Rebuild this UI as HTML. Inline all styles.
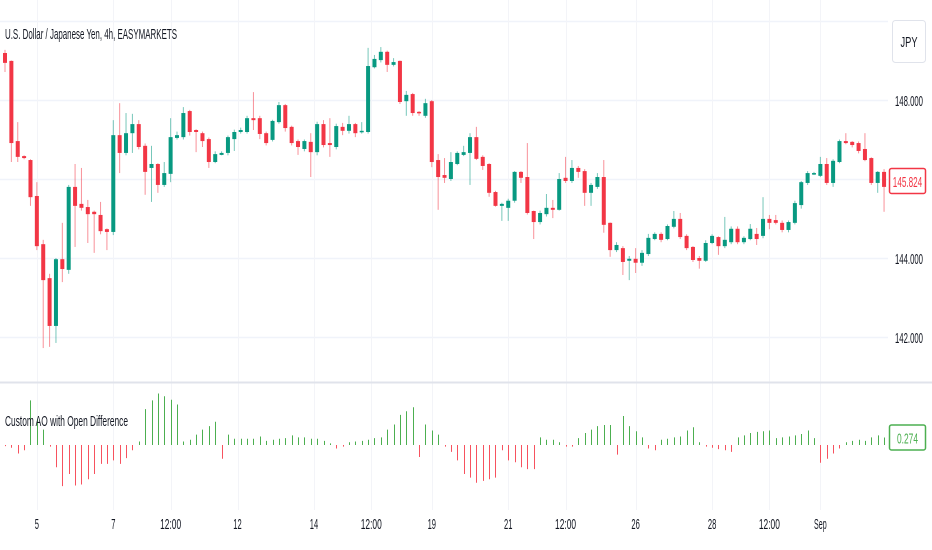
<!DOCTYPE html>
<html><head><meta charset="utf-8">
<style>
html,body{margin:0;padding:0;background:#fff;}
svg{display:block;font-family:"Liberation Sans",sans-serif;}
</style></head>
<body>
<svg id="chart" width="932" height="550" viewBox="0 0 932 550" xmlns="http://www.w3.org/2000/svg">
  <g id="grid"></g>
  <line x1="0" y1="382.5" x2="932" y2="382.5" stroke="#e0e3eb" stroke-width="2"/>
  <g id="candles"></g>
  <g id="osc"></g>
  <g id="axes"></g>
  <text x="5" y="39" font-size="15" fill="#131722" textLength="172" lengthAdjust="spacingAndGlyphs">U.S. Dollar / Japanese Yen, 4h, EASYMARKETS</text>
  <text x="5" y="426" font-size="15" fill="#131722" textLength="123" lengthAdjust="spacingAndGlyphs">Custom AO with Open Difference</text>
  <g>
    <rect x="892.5" y="20.5" width="33" height="42" rx="3" fill="#fff" stroke="#e0e3eb"/>
    <text x="909" y="47" font-size="15" fill="#131722" text-anchor="middle" textLength="17" lengthAdjust="spacingAndGlyphs">JPY</text>
  </g>
</svg>
<script>
const opens=[149.19,148.99,146.96,146.58,146.48,145.57,144.35,143.49,142.28,143.97,143.70,145.80,145.37,145.29,145.17,145.09,144.73,144.66,147.11,146.66,147.16,147.39,146.84,146.28,146.38,145.85,146.13,147.04,147.06,147.72,147.24,147.16,147.01,146.43,146.61,146.66,147.01,147.19,147.19,147.54,147.54,147.16,146.99,147.44,147.87,147.32,146.96,146.76,146.94,146.68,147.39,146.91,146.81,147.32,147.22,147.39,147.19,147.19,148.83,149.01,149.22,148.89,148.99,147.97,148.15,147.70,147.60,147.97,146.48,146.10,146.00,146.38,146.61,146.66,147.06,146.56,146.38,145.67,145.32,145.27,145.45,146.18,146.05,145.19,144.91,145.11,145.27,145.22,146.03,145.95,146.28,146.20,145.65,145.80,146.05,144.89,144.20,144.25,143.93,143.98,143.88,144.10,144.48,144.61,144.48,144.79,144.99,144.56,144.28,144.00,143.93,144.38,144.53,144.30,144.40,144.74,144.40,144.48,144.61,144.56,144.99,144.96,144.89,144.71,144.89,145.34,145.90,146.13,146.08,146.38,145.90,146.43,146.96,146.94,146.91,146.76,146.53,145.90,146.18];
const highs=[149.27,149.00,147.44,146.60,146.50,145.92,144.46,143.60,144.00,144.89,145.85,146.38,146.28,145.47,145.20,145.42,144.75,147.49,147.92,147.67,147.65,147.49,146.90,146.84,146.40,146.43,147.54,147.20,147.82,147.75,147.26,147.20,147.05,146.70,146.70,147.10,147.25,147.30,147.60,148.20,147.60,147.20,147.50,147.95,147.90,147.35,147.00,147.00,147.16,147.45,147.49,147.54,147.40,147.42,147.60,147.42,147.44,149.32,149.14,149.34,149.25,149.06,149.00,148.23,148.18,147.72,148.03,148.00,146.63,146.53,146.68,146.70,146.84,147.16,147.32,146.60,146.40,145.70,145.40,145.50,146.20,146.20,146.91,145.20,145.20,145.62,145.47,146.15,146.56,146.48,146.33,146.25,145.90,146.15,146.48,144.90,144.40,144.30,144.05,144.25,144.20,144.61,144.65,144.65,144.85,145.19,145.14,144.60,144.30,144.05,144.45,144.60,144.55,145.04,144.80,144.80,144.55,144.86,144.76,145.54,145.09,145.09,144.95,144.95,145.45,145.95,146.20,146.18,146.56,146.53,146.50,147.00,147.16,146.96,146.95,147.16,146.55,146.20,146.25];
const lows=[148.71,146.43,146.43,146.50,145.32,144.20,141.72,141.75,141.85,143.39,143.60,144.28,145.20,144.38,144.13,144.60,144.20,144.58,146.15,146.60,146.66,146.75,145.60,145.42,145.65,145.80,145.92,147.00,147.00,147.10,146.68,146.81,146.28,146.40,146.60,146.60,146.71,147.15,147.15,147.24,147.01,146.85,146.95,147.40,147.20,146.85,146.61,146.70,146.05,146.60,146.80,146.56,146.75,147.11,147.15,147.06,147.15,147.15,148.80,148.95,148.71,148.85,147.90,147.60,147.60,147.60,147.55,146.30,145.22,145.90,145.95,146.35,146.58,145.85,146.48,146.23,145.55,145.30,144.94,144.94,145.40,145.90,145.10,144.48,144.85,145.05,145.01,145.20,145.90,145.90,146.03,145.32,145.32,145.75,144.64,144.03,144.15,143.57,143.44,143.62,143.80,144.05,144.45,144.40,144.45,144.75,144.48,144.20,143.90,143.73,143.90,144.35,144.08,144.25,144.35,144.35,144.35,144.45,144.33,144.50,144.73,144.85,144.65,144.65,144.85,145.25,145.85,146.10,146.05,145.85,145.80,146.40,146.88,146.80,146.65,146.45,145.85,145.65,145.17];
const closes=[148.94,146.91,146.56,146.53,145.54,144.30,143.44,142.28,143.97,143.72,145.80,145.32,145.27,145.11,145.11,144.68,144.66,147.11,146.66,147.16,147.39,146.81,146.18,146.38,145.85,146.15,147.06,147.11,147.67,147.19,147.19,146.96,146.43,146.63,146.66,147.06,147.19,147.24,147.54,147.49,147.14,146.91,147.47,147.87,147.29,146.91,146.81,146.96,146.68,147.39,146.86,146.86,147.34,147.22,147.39,147.16,147.22,148.86,149.04,149.22,148.89,148.96,147.95,148.13,147.67,147.67,147.92,146.43,146.05,146.03,146.43,146.66,146.68,147.06,146.51,146.33,145.65,145.32,145.37,145.45,146.18,146.03,145.14,144.91,145.14,145.27,145.22,146.00,145.95,146.28,146.18,145.65,145.85,146.05,144.84,144.20,144.33,143.90,143.98,143.88,144.13,144.51,144.61,144.46,144.81,144.99,144.53,144.25,143.95,143.93,144.38,144.56,144.30,144.46,144.74,144.40,144.51,144.74,144.48,144.99,144.89,144.89,144.71,144.91,145.39,145.92,146.15,146.15,146.38,145.90,146.46,146.96,146.91,146.86,146.71,146.48,145.90,146.18,145.80];
const oscValues=[-0.04,-0.10,-0.31,-0.19,1.63,0.94,0.56,-0.06,-0.81,-1.50,-1.06,-1.48,-1.44,-1.25,-1.06,-0.69,-0.69,-0.56,-0.69,-0.48,-0.19,0.13,1.31,1.63,1.88,1.78,1.65,1.48,0.13,0.19,0.38,0.56,0.69,0.85,-0.50,0.38,0.23,0.23,0.23,0.23,0.31,0.15,0.19,0.23,0.25,0.35,0.28,0.28,0.23,0.23,0.15,0.06,-0.13,-0.06,0.10,0.13,0.15,0.19,0.25,0.28,0.56,0.75,1.10,1.23,1.38,-0.44,0.75,0.53,0.38,-0.06,-0.25,-0.56,-1.06,-1.19,-1.38,-1.31,-1.25,-1.19,-0.19,-0.56,-0.63,-0.81,-0.88,-0.88,0.28,0.19,0.19,0.10,-0.06,-0.06,0.25,0.44,0.56,0.69,0.73,0.73,-0.35,1.06,0.69,0.50,0.28,-0.13,-0.19,0.19,0.23,0.28,0.31,0.53,0.65,0.10,-0.06,-0.10,-0.15,-0.19,-0.25,0.28,0.35,0.44,0.48,0.50,0.53,0.25,0.28,0.31,0.35,0.40,0.53,0.25,-0.65,-0.50,-0.31,-0.13,0.10,0.15,0.19,0.15,0.28,0.35,0.274];
const gridPrices=[150,148,146,144,142];
const priceTicks=[148,146,144,142];
const priceTickLabels=["148.000","146.000","144.000","142.000"];
const timeLabels=["5","7","12:00","12","14","12:00","19","21","12:00","26","28","12:00","Sep"];
const timeLabelIndex=[5,17,26,36.5,48.5,57.5,67,79,88,99,111,120,128];
const lastPriceLabel="145.824";
const lastOscLabel="0.274";

const NS="http://www.w3.org/2000/svg";
const X0=5, DX=6.37;
function xAt(i){return X0+i*DX;}
function yPrice(p){return 100+(148-p)*39.5;}
const OSC_ZERO=445, OSC_SCALE=27.4;
function yOsc(v){return OSC_ZERO-v*OSC_SCALE;}
function mk(tag,parent){const e=document.createElementNS(NS,tag);parent.appendChild(e);return e;}

const grid=document.getElementById('grid');
gridPrices.forEach(function(p){
  const l=mk('line',grid);
  
  
  const y=Math.round(yPrice(p))+0.5;
  l.setAttribute('x1',0);l.setAttribute('x2',888);l.setAttribute('y1',y);l.setAttribute('y2',y);
  l.setAttribute('stroke','#f0f3fa');l.setAttribute('stroke-width','1.5');
});
timeLabelIndex.forEach(function(ix){
  const l=mk('line',grid);
  
  
  const x=Math.round(xAt(ix))+0.5;
  l.setAttribute('x1',x);l.setAttribute('x2',x);l.setAttribute('y1',0);l.setAttribute('y2',510);
  l.setAttribute('stroke','#f3f4f8');l.setAttribute('stroke-width','1');
});

const cg=document.getElementById('candles');
for(let i=0;i<opens.length;i++){
  const up=closes[i]>=opens[i];
  const col=up?'#089981':'#f23645';
  const x=xAt(i);
  const w=mk('line',cg);
  
  
  w.setAttribute('x1',x);w.setAttribute('x2',x);
  w.setAttribute('y1',yPrice(highs[i]));w.setAttribute('y2',yPrice(lows[i]));
  w.setAttribute('stroke',col);w.setAttribute('stroke-opacity','0.55');w.setAttribute('stroke-width','1');
  const b=mk('rect',cg);
  
  
  const yt=yPrice(Math.max(opens[i],closes[i])), yb=yPrice(Math.min(opens[i],closes[i]));
  b.setAttribute('x',x-2);b.setAttribute('width',4);
  b.setAttribute('y',yt);b.setAttribute('height',Math.max(1.5,yb-yt));
  b.setAttribute('fill',col);
}

const og=document.getElementById('osc');
for(let i=0;i<oscValues.length;i++){
  const v=oscValues[i];
  const l=mk('line',og);
  
  
  const x=Math.round(xAt(i))+0.5;
  l.setAttribute('x1',x);l.setAttribute('x2',x);
  l.setAttribute('y1',OSC_ZERO);l.setAttribute('y2',yOsc(v));
  l.setAttribute('stroke',v>=0?'#4caf50':'#f7525f');l.setAttribute('stroke-width','1');
}

const ax=document.getElementById('axes');
priceTicks.forEach(function(p,k){
  const t=mk('text',ax);
  
  
  t.setAttribute('x',895);t.setAttribute('y',yPrice(p)+6);
  t.setAttribute('font-size','15');t.setAttribute('fill','#131722');
  t.setAttribute('textLength','28');t.setAttribute('lengthAdjust','spacingAndGlyphs');
  t.textContent=priceTickLabels[k];
});
timeLabels.forEach(function(s,k){
  const t=mk('text',ax);
  
  
  t.setAttribute('x',xAt(timeLabelIndex[k]));t.setAttribute('y',529);
  t.setAttribute('font-size','15');t.setAttribute('fill','#131722');
  t.setAttribute('text-anchor','middle');
  t.setAttribute('textLength',s.length*4.2);t.setAttribute('lengthAdjust','spacingAndGlyphs');
  t.textContent=s;
});
function badge(val,label,col,name){
  const g=mk('g',ax);
  
  
  const r=mk('rect',g);
  r.setAttribute('x',889.5);r.setAttribute('y',val-12.5);r.setAttribute('width',36);r.setAttribute('height',25);
  r.setAttribute('fill','#fff');r.setAttribute('stroke',col);r.setAttribute('stroke-width','1.5');r.setAttribute('rx','2');
  const t=mk('text',g);
  t.setAttribute('x',907.5);t.setAttribute('y',val+6);t.setAttribute('text-anchor','middle');
  t.setAttribute('font-size','15');t.setAttribute('fill',col);
  t.setAttribute('textLength',label.length*4.2);t.setAttribute('lengthAdjust','spacingAndGlyphs');
  t.textContent=label;
}
badge(yPrice(parseFloat(lastPriceLabel))-5,lastPriceLabel,'#f23645','last-price-label');
badge(yOsc(parseFloat(lastOscLabel)),lastOscLabel,'#4caf50','last-oscillator-label');
</script>
</body></html>
